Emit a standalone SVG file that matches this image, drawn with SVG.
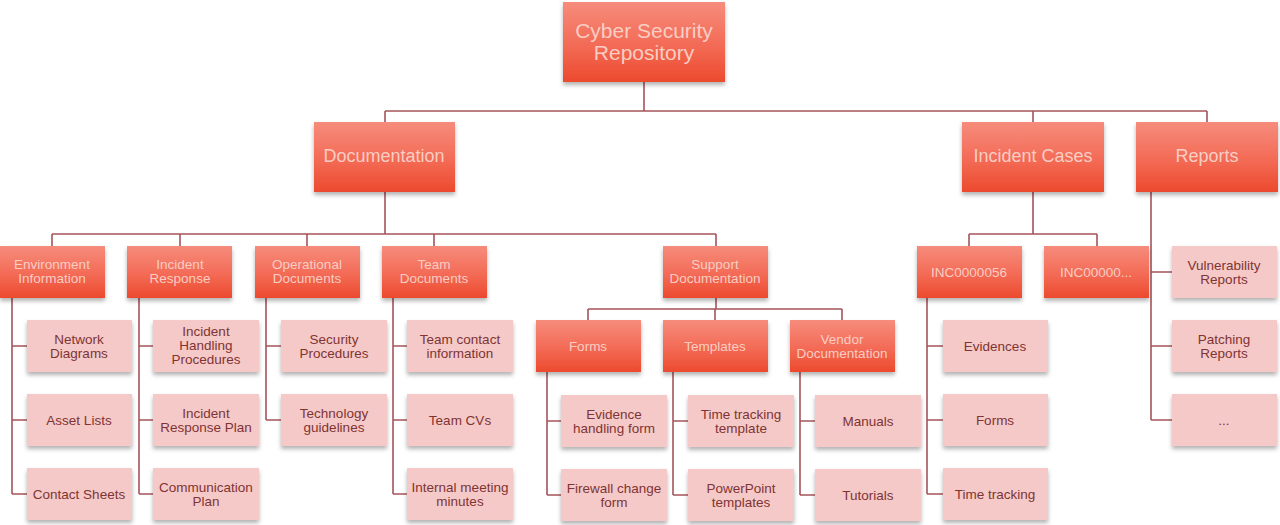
<svg xmlns="http://www.w3.org/2000/svg" width="1280" height="525" viewBox="0 0 1280 525">
<defs>
<linearGradient id="gRed" x1="0" y1="0" x2="0" y2="1">
<stop offset="0" stop-color="#f68c7c"/>
<stop offset="0.55" stop-color="#f36a55"/>
<stop offset="1" stop-color="#ec4a2e"/>
</linearGradient>
<filter id="sh" x="-10%" y="-10%" width="120%" height="135%">
<feDropShadow dx="0" dy="3" stdDeviation="2" flood-color="#000" flood-opacity="0.3"/>
</filter>
</defs>
<style>
.d{fill:url(#gRed);filter:url(#sh)}
.l{fill:#f5c9c7;filter:url(#sh)}
.dt{font-family:"Liberation Sans",Arial,sans-serif;fill:#f9cdc3;text-anchor:middle;dominant-baseline:central}
.lt{font-family:"Liberation Sans",Arial,sans-serif;fill:#7f3434;text-anchor:middle;dominant-baseline:central;font-size:13.5px}
.s2{font-size:13.5px}
.s1{font-size:18px}
.s0{font-size:21px}
#connectors path{fill:none;stroke:#a5545a;stroke-width:1.6}
</style>
<rect width="1280" height="525" fill="#ffffff"/>
<g id="connectors">
<path d="M644 82V111M385 111H1207M385 111V122M1033 111V122M1207 111V122"/>
<path d="M385 192V234M52 234H716M52 234V246M180 234V246M307 234V246M434 234V246M716 234V246"/>
<path d="M1033 192V234M969 234H1097M969 234V246M1097 234V246"/>
<path d="M716 298V309M588 309H842M588 309V320M715 309V320M842 309V320"/>
<path d="M12 298V494M12 346H27M12 420H27M12 494H27"/>
<path d="M139 298V494M139 346H153M139 420H153M139 494H153"/>
<path d="M266 298V420M266 346H281M266 420H281"/>
<path d="M393 298V494M393 346H407M393 420H407M393 494H407"/>
<path d="M547 372V495M547 421H561M547 495H561"/>
<path d="M673 372V495M673 421H688M673 495H688"/>
<path d="M800 372V495M800 421H815M800 495H815"/>
<path d="M927 298V494M927 346H943M927 420H943M927 494H943"/>
<path d="M1151 192V420M1151 272H1172M1151 346H1172M1151 420H1172"/>
</g>
<g id="root"><rect class="d" x="563" y="2" width="162" height="80"/><text class="dt s0" x="644" y="30">Cyber Security</text><text class="dt s0" x="644" y="52">Repository</text></g>
<g id="documentation"><rect class="d" x="314" y="122" width="141" height="70"/><text class="dt s1" x="384" y="156">Documentation</text></g>
<g id="incident-cases"><rect class="d" x="962" y="122" width="142" height="70"/><text class="dt s1" x="1033" y="156">Incident Cases</text></g>
<g id="reports"><rect class="d" x="1136" y="122" width="142" height="70"/><text class="dt s1" x="1207" y="156">Reports</text></g>
<g id="env-info"><rect class="d" x="0" y="246" width="105" height="52"/><text class="dt s2" x="52" y="264">Environment</text><text class="dt s2" x="52" y="278">Information</text></g>
<g id="incident-response"><rect class="d" x="127" y="246" width="105" height="52"/><text class="dt s2" x="180" y="264">Incident</text><text class="dt s2" x="180" y="278">Response</text></g>
<g id="operational-docs"><rect class="d" x="255" y="246" width="105" height="52"/><text class="dt s2" x="307" y="264">Operational</text><text class="dt s2" x="307" y="278">Documents</text></g>
<g id="team-docs"><rect class="d" x="382" y="246" width="105" height="52"/><text class="dt s2" x="434" y="264">Team</text><text class="dt s2" x="434" y="278">Documents</text></g>
<g id="support-docs"><rect class="d" x="663" y="246" width="105" height="52"/><text class="dt s2" x="715" y="264">Support</text><text class="dt s2" x="715" y="278">Documentation</text></g>
<g id="inc56"><rect class="d" x="917" y="246" width="105" height="52"/><text class="dt s2" x="969" y="272">INC0000056</text></g>
<g id="inc-more"><rect class="d" x="1044" y="246" width="105" height="52"/><text class="dt s2" x="1096" y="272">INC00000...</text></g>
<g id="forms"><rect class="d" x="536" y="320" width="105" height="52"/><text class="dt s2" x="588" y="346">Forms</text></g>
<g id="templates"><rect class="d" x="663" y="320" width="105" height="52"/><text class="dt s2" x="715" y="346">Templates</text></g>
<g id="vendor-docs"><rect class="d" x="790" y="320" width="105" height="52"/><text class="dt s2" x="842" y="339">Vendor</text><text class="dt s2" x="842" y="353">Documentation</text></g>
<g id="network-diagrams"><rect class="l" x="27" y="320" width="105" height="52"/><text class="lt" x="79" y="339">Network</text><text class="lt" x="79" y="353">Diagrams</text></g>
<g id="asset-lists"><rect class="l" x="27" y="394" width="105" height="52"/><text class="lt" x="79" y="420">Asset Lists</text></g>
<g id="contact-sheets"><rect class="l" x="27" y="468" width="105" height="52"/><text class="lt" x="79" y="494">Contact Sheets</text></g>
<g id="ih-procedures"><rect class="l" x="153" y="320" width="106" height="52"/><text class="lt" x="206" y="331">Incident</text><text class="lt" x="206" y="345">Handling</text><text class="lt" x="206" y="359">Procedures</text></g>
<g id="ir-plan"><rect class="l" x="153" y="394" width="106" height="52"/><text class="lt" x="206" y="413">Incident</text><text class="lt" x="206" y="427">Response Plan</text></g>
<g id="comm-plan"><rect class="l" x="153" y="468" width="106" height="52"/><text class="lt" x="206" y="487">Communication</text><text class="lt" x="206" y="501">Plan</text></g>
<g id="security-procedures"><rect class="l" x="281" y="320" width="106" height="52"/><text class="lt" x="334" y="339">Security</text><text class="lt" x="334" y="353">Procedures</text></g>
<g id="tech-guidelines"><rect class="l" x="281" y="394" width="106" height="52"/><text class="lt" x="334" y="413">Technology</text><text class="lt" x="334" y="427">guidelines</text></g>
<g id="team-contact"><rect class="l" x="407" y="320" width="106" height="52"/><text class="lt" x="460" y="339">Team contact</text><text class="lt" x="460" y="353">information</text></g>
<g id="team-cvs"><rect class="l" x="407" y="394" width="106" height="52"/><text class="lt" x="460" y="420">Team CVs</text></g>
<g id="meeting-minutes"><rect class="l" x="407" y="468" width="106" height="52"/><text class="lt" x="460" y="487">Internal meeting</text><text class="lt" x="460" y="501">minutes</text></g>
<g id="evidence-form"><rect class="l" x="561" y="395" width="106" height="52"/><text class="lt" x="614" y="414">Evidence</text><text class="lt" x="614" y="428">handling form</text></g>
<g id="firewall-form"><rect class="l" x="561" y="469" width="106" height="52"/><text class="lt" x="614" y="488">Firewall change</text><text class="lt" x="614" y="502">form</text></g>
<g id="time-template"><rect class="l" x="688" y="395" width="106" height="52"/><text class="lt" x="741" y="414">Time tracking</text><text class="lt" x="741" y="428">template</text></g>
<g id="ppt-templates"><rect class="l" x="688" y="469" width="106" height="52"/><text class="lt" x="741" y="488">PowerPoint</text><text class="lt" x="741" y="502">templates</text></g>
<g id="manuals"><rect class="l" x="815" y="395" width="106" height="52"/><text class="lt" x="868" y="421">Manuals</text></g>
<g id="tutorials"><rect class="l" x="815" y="469" width="106" height="52"/><text class="lt" x="868" y="495">Tutorials</text></g>
<g id="evidences"><rect class="l" x="943" y="320" width="105" height="52"/><text class="lt" x="995" y="346">Evidences</text></g>
<g id="inc-forms"><rect class="l" x="943" y="394" width="105" height="52"/><text class="lt" x="995" y="420">Forms</text></g>
<g id="time-tracking"><rect class="l" x="943" y="468" width="105" height="52"/><text class="lt" x="995" y="494">Time tracking</text></g>
<g id="vuln-reports"><rect class="l" x="1172" y="246" width="105" height="52"/><text class="lt" x="1224" y="265">Vulnerability</text><text class="lt" x="1224" y="279">Reports</text></g>
<g id="patching-reports"><rect class="l" x="1172" y="320" width="105" height="52"/><text class="lt" x="1224" y="339">Patching</text><text class="lt" x="1224" y="353">Reports</text></g>
<g id="more-reports"><rect class="l" x="1172" y="394" width="105" height="52"/><text class="lt" x="1224" y="420">...</text></g>
</svg>
